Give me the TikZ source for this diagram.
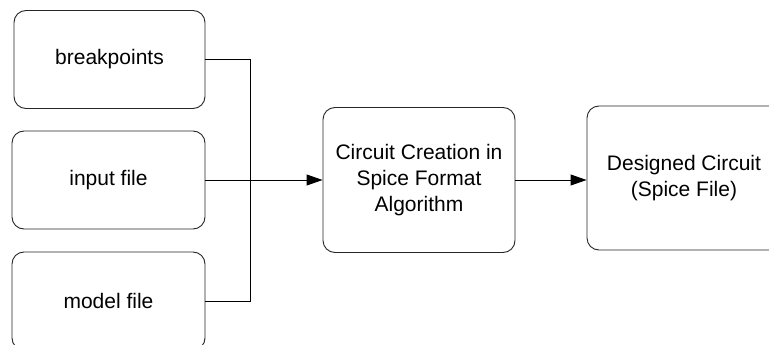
\documentclass[tikz,border=0pt]{standalone}
\usepackage{fontspec}
\setmainfont{Liberation Sans}
\usetikzlibrary{arrows.meta}
\begin{document}
\begin{tikzpicture}[x=1pt,y=-1pt,
  box/.style={draw=black!85, line width=0.9pt, rounded corners=12pt, align=center,
    font=\fontsize{21}{26}\selectfont, inner sep=0pt},
  conn/.style={draw=black, line width=0.9pt},
  arr/.style={conn, -{Triangle[length=16pt,width=11pt]}}]
\useasboundingbox (0,0) rectangle (769,345);
\clip (0,0) rectangle (769,345);
\fill[white] (0,0) rectangle (769,345);
\node[box, minimum width=191pt, minimum height=98pt] (b1) at (109.5,59.5) {breakpoints};
\node[box, minimum width=193pt, minimum height=98pt] (b2) at (108.5,180) {input file};
\node[box, minimum width=193pt, minimum height=98pt] (b3) at (108.5,301) {model file};
\node[box, minimum width=192pt, minimum height=145pt] (alg) at (419,180) {Circuit Creation in\\Spice Format\\Algorithm};
\node[box, minimum width=194pt, minimum height=144pt] (out) at (684,178) {Designed Circuit\\(Spice File)};
\coordinate (j) at (250,0);
\draw[conn] (b1.east) -- (b1.east -| j) -- (b3.east -| j) -- (b3.east);
\draw[arr] (b2.east) -- (alg.west);
\draw[arr] (alg.east) -- (alg.east -| out.west);
\end{tikzpicture}
\end{document}
